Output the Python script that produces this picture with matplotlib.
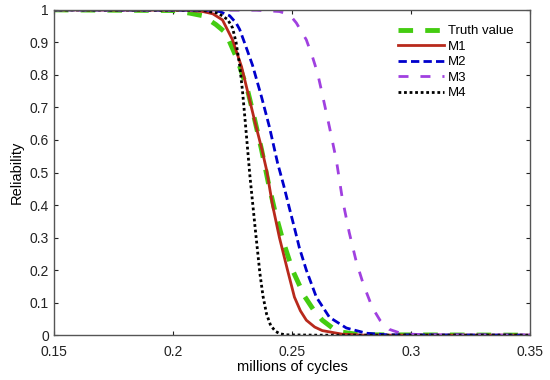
import numpy as np
import matplotlib
matplotlib.use('Agg')
import matplotlib.pyplot as plt

plt.rcParams.update({
    'font.family': ['Liberation Sans', 'DejaVu Sans'],
    'font.size': 10,
    'axes.linewidth': 1,
    'axes.edgecolor': '#555555',
    'xtick.direction': 'in',
    'ytick.direction': 'in',
    'xtick.top': True,
    'ytick.right': True,
})

# values (millions of cycles, reliability)
truth_x = [0.150, 0.200, 0.2070, 0.2125, 0.2180, 0.2221, 0.2271, 0.2313, 0.2342, 0.2372,
           0.2400, 0.2430, 0.2462, 0.2502, 0.2552, 0.2590, 0.2627, 0.2670, 0.2711, 0.2770,
           0.2850, 0.350]
truth_y = [1.000, 0.998, 0.990, 0.982, 0.955, 0.930, 0.846, 0.754, 0.666, 0.570,
           0.470, 0.375, 0.290, 0.200, 0.120, 0.078, 0.046, 0.022, 0.009, 0.003,
           0.001, 0.000]

m1_x = [0.150, 0.205, 0.2125, 0.2167, 0.2208, 0.2250, 0.2288, 0.2313, 0.2342, 0.2372,
        0.2393, 0.2418, 0.2447, 0.2481, 0.2510, 0.2535, 0.2560, 0.2595, 0.2627, 0.2711,
        0.2800, 0.350]
m1_y = [1.000, 0.999, 0.995, 0.988, 0.969, 0.908, 0.825, 0.750, 0.662, 0.575,
        0.508, 0.400, 0.300, 0.200, 0.117, 0.075, 0.046, 0.025, 0.014, 0.003,
        0.000, 0.000]

m2_x = [0.150, 0.212, 0.2196, 0.2238, 0.2265, 0.2280, 0.2300, 0.2334, 0.2372, 0.2405,
        0.2439, 0.2465, 0.2489, 0.2510, 0.2531, 0.2560, 0.2602, 0.2657, 0.2728, 0.2812,
        0.2900, 0.350]
m2_y = [1.000, 0.999, 0.995, 0.982, 0.960, 0.940, 0.900, 0.830, 0.732, 0.640,
        0.530, 0.460, 0.390, 0.330, 0.268, 0.200, 0.117, 0.055, 0.022, 0.006,
        0.001, 0.000]

m3_x = [0.150, 0.235, 0.2447, 0.2490, 0.2518, 0.2560, 0.2586, 0.2607, 0.2623, 0.2657,
        0.2686, 0.2711, 0.2740, 0.2770, 0.2800, 0.2837, 0.2870, 0.2908, 0.2960, 0.3050,
        0.350]
m3_y = [1.000, 0.999, 0.995, 0.985, 0.960, 0.908, 0.855, 0.806, 0.754, 0.640,
        0.538, 0.420, 0.316, 0.225, 0.155, 0.085, 0.045, 0.018, 0.005, 0.001,
        0.000]

m4_x = [0.150, 0.212, 0.2190, 0.2230, 0.2250, 0.2265, 0.2280, 0.2292, 0.2303, 0.2313,
        0.2323, 0.2334, 0.2345, 0.2355, 0.2365, 0.2378, 0.2393, 0.2410, 0.2430, 0.2450,
        0.2476, 0.2600, 0.350]
m4_y = [1.000, 0.999, 0.990, 0.970, 0.945, 0.900, 0.830, 0.750, 0.660, 0.575,
        0.490, 0.410, 0.330, 0.260, 0.190, 0.120, 0.065, 0.030, 0.012, 0.004,
        0.001, 0.000, 0.000]

fig = plt.figure(figsize=(5.5, 3.8), dpi=100)
ax = fig.add_axes([0.098, 0.118, 0.866, 0.856])

ax.plot(truth_x, truth_y, color='#44cc11', lw=3.5, ls=(0, (3, 2.5)), label='Truth value')
ax.plot(m1_x, m1_y, color='#b8291c', lw=2, ls='-', label='M1')
ax.plot(m2_x, m2_y, color='#0000cc', lw=2, ls=(0, (3, 1.5)), label='M2')
ax.plot(m3_x, m3_y, color='#a040e0', lw=2, ls=(0, (3.6, 4.3)), label='M3')
ax.plot(m4_x, m4_y, color='black', lw=2, ls=(0, (1, 1)), label='M4')

ax.set_xlim(0.15, 0.35)
ax.set_ylim(0, 1)
ax.set_xticks([0.15, 0.2, 0.25, 0.3, 0.35])
ax.set_xticklabels(['0.15', '0.2', '0.25', '0.3', '0.35'])
ax.set_yticks(np.arange(0, 1.01, 0.1))
ax.set_yticklabels(['0', '0.1', '0.2', '0.3', '0.4', '0.5', '0.6', '0.7', '0.8', '0.9', '1'])
ax.tick_params(length=3, width=0.8, colors='#222222', labelsize=10)
ax.tick_params(axis='x', pad=7)
ax.set_xlabel('millions of cycles', fontsize=10.5, labelpad=1)
ax.set_ylabel('Reliability', fontsize=10.5)

ax.legend(loc='upper right', bbox_to_anchor=(0.99, 0.99), frameon=False,
          fontsize=9.5, handlelength=3.5, labelspacing=0.25, handletextpad=0.3)

fig.savefig('out.png', dpi=100)
